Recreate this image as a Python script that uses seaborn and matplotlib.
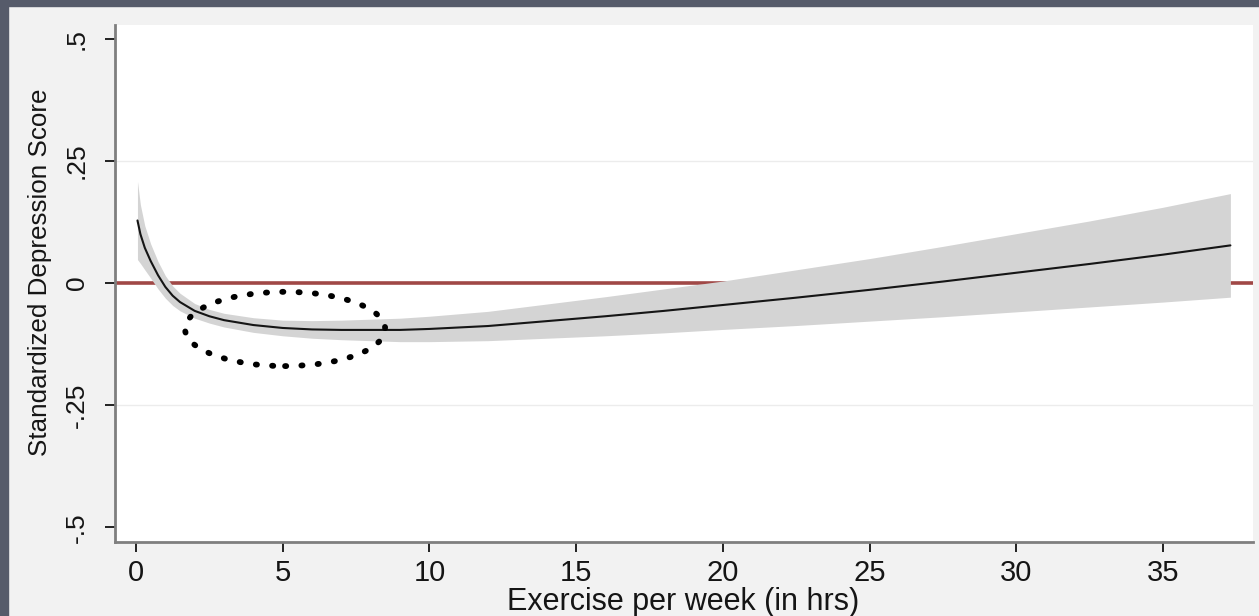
import numpy as np
import pandas as pd
import matplotlib.pyplot as plt
import seaborn as sns
from matplotlib.patches import Ellipse, Rectangle

# values
exercise_hrs = [0.05, 0.15, 0.3, 0.5, 0.75, 1.0, 1.25, 1.5, 2.0, 2.5, 3.0, 4.0, 5.0, 6.0, 7.0, 8.0,
                9.0, 10.0, 12.0, 14.0, 16.0, 18.0, 20.0, 22.5, 25.0, 27.5, 30.0, 32.5, 35.0, 37.3]
depression_score = [0.128, 0.100, 0.072, 0.045, 0.016, -0.008, -0.026, -0.039, -0.057, -0.068,
                    -0.076, -0.086, -0.092, -0.095, -0.096, -0.096, -0.096, -0.094, -0.088,
                    -0.078, -0.068, -0.057, -0.045, -0.030, -0.014, 0.003, 0.021, 0.039, 0.058,
                    0.077]
ci_high = [0.208, 0.160, 0.117, 0.080, 0.044, 0.015, -0.006, -0.021, -0.042, -0.054, -0.062,
           -0.071, -0.076, -0.077, -0.076, -0.074, -0.072, -0.068, -0.058, -0.043, -0.028,
           -0.012, 0.004, 0.027, 0.050, 0.075, 0.101, 0.127, 0.155, 0.183]
ci_low = [0.048, 0.040, 0.027, 0.010, -0.012, -0.031, -0.046, -0.057, -0.072, -0.082, -0.090,
          -0.101, -0.108, -0.113, -0.116, -0.118, -0.120, -0.120, -0.118, -0.113, -0.108,
          -0.102, -0.095, -0.087, -0.078, -0.069, -0.059, -0.049, -0.039, -0.029]

xtick_vals = [0, 5, 10, 15, 20, 25, 30, 35]
ytick_vals = [0.5, 0.25, 0, -0.25, -0.5]
ytick_labels = [".5", ".25", "0", "-.25", "-.5"]

df = pd.DataFrame({"hrs": exercise_hrs, "score": depression_score,
                   "lo": ci_low, "hi": ci_high})

sns.set_theme(style="white")
plt.rcParams['font.family'] = ['Liberation Sans', 'DejaVu Sans']

W, H = 1259, 616
fig = plt.figure(figsize=(W / 100, H / 100), dpi=100, facecolor='#f2f2f2')
ax = fig.add_axes([115 / W, 74 / H, (1253 - 115) / W, (542 - 25) / H])
ax.set_facecolor('white')

# dark slide frame on left and top
fig.patches.append(Rectangle((0, 0), 8 / W, 1, transform=fig.transFigure,
                             color='#565b6a', zorder=0))
fig.patches.append(Rectangle((0, 1 - 6 / H), 1, 6 / H, transform=fig.transFigure,
                             color='#565b6a', zorder=0))

for gy in [0.25, -0.25]:
    ax.axhline(gy, color='#ececec', lw=1, zorder=0)
ax.axhline(0, color='#a04846', lw=2.6, zorder=1)

ax.fill_between(df["hrs"], df["lo"], df["hi"], color='#d4d4d4', lw=0, zorder=2)
sns.lineplot(data=df, x="hrs", y="score", color='#151515', lw=1.5, ax=ax, zorder=3)

# dotted highlight around the minimum
ax.add_patch(Ellipse((5.08, -0.094), 6.82, 0.152, fill=False, ec='black', lw=4.2,
                     ls=(0, (0.2, 2.6)), capstyle='round', zorder=4))

ax.set_xlim(-0.716, 38.07)
ax.set_ylim(-0.530, 0.528)
ax.set_xticks(xtick_vals)
ax.set_xticklabels([str(v) for v in xtick_vals], fontsize=21, color='#151515')
ax.set_yticks(ytick_vals)
ax.set_yticklabels(ytick_labels, rotation=90, va='center', fontsize=19, color='#151515')
ax.tick_params(bottom=True, left=True, direction='out', length=7, width=1.4,
               color='#222222')
ax.tick_params(axis='y', pad=12)
ax.tick_params(axis='x', pad=5)

for s in ['top', 'right']:
    ax.spines[s].set_visible(False)
for s in ['left', 'bottom']:
    ax.spines[s].set_color('#7f7f7f')
    ax.spines[s].set_linewidth(2)

ax.set_xlabel("Exercise per week (in hrs)", fontsize=22, color='#151515')
ax.set_ylabel("Standardized Depression Score", fontsize=18.7, color='#151515')
ax.xaxis.set_label_coords(0.499, -0.088)
ax.yaxis.set_label_coords(-0.055, 0.522)

fig.savefig("out.png", dpi=100, facecolor=fig.get_facecolor())
